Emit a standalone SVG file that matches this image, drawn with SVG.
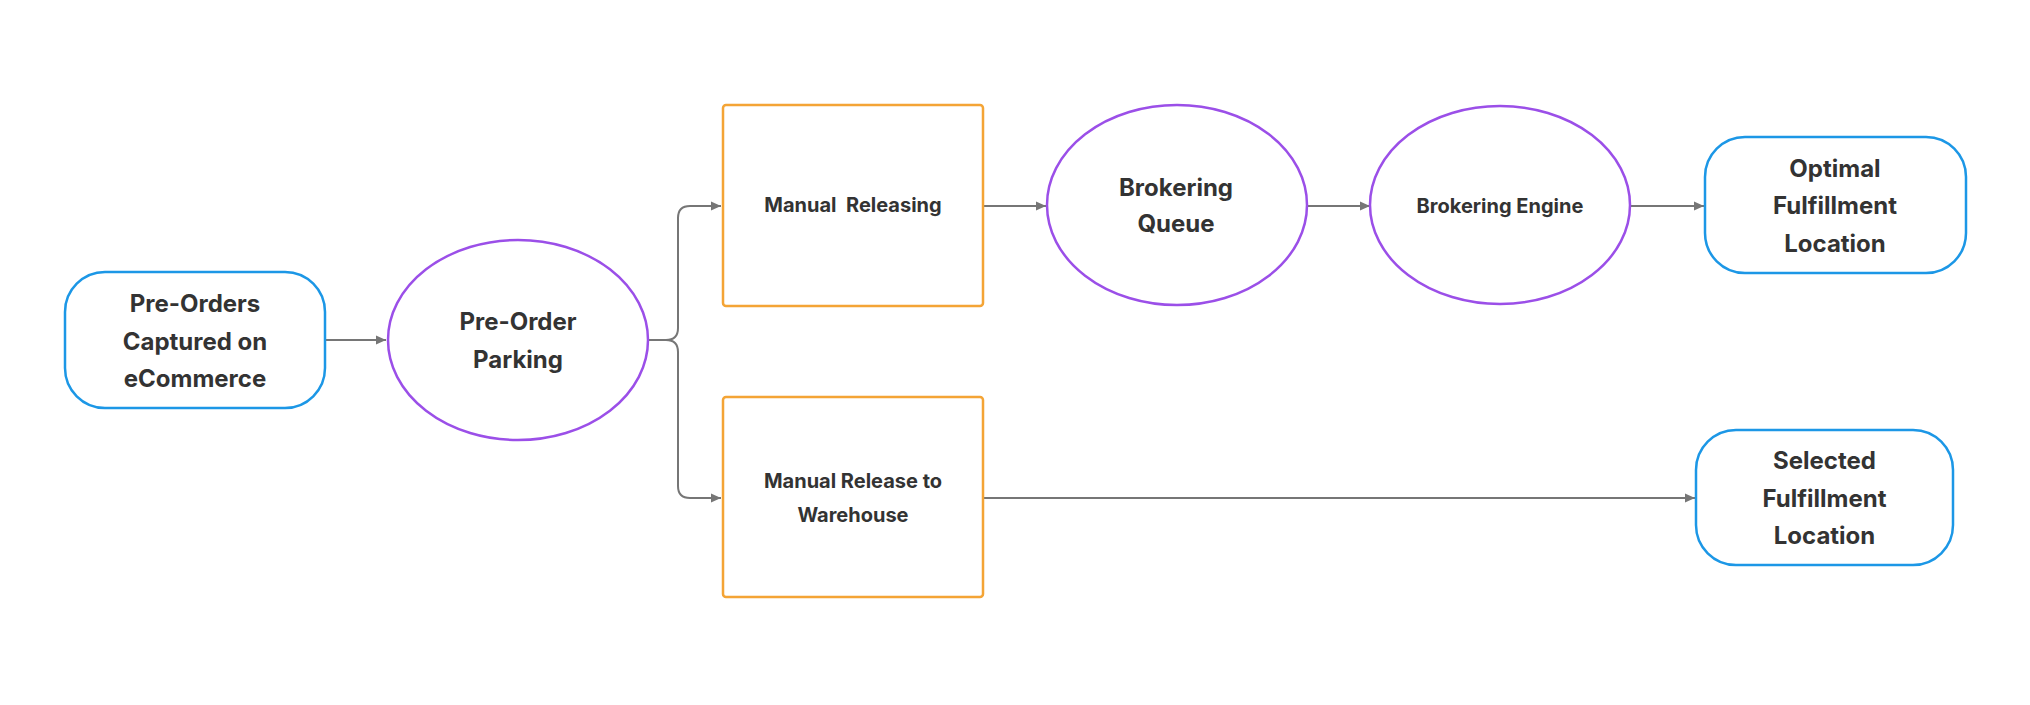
<svg xmlns="http://www.w3.org/2000/svg" width="2030" height="705" viewBox="0 0 2030 705">
<defs>
<marker id="arrow" markerUnits="userSpaceOnUse" markerWidth="10" markerHeight="10" refX="10" refY="5" orient="auto">
<path d="M0,0.5 L10,5 L0,9.5 z" fill="#767676"/>
</marker>
<style>
.term{fill:#fff;stroke:#1C97E6;stroke-width:2.5}
.proc{fill:#fff;stroke:#9B4FE8;stroke-width:2.5}
.act{fill:#fff;stroke:#F4A435;stroke-width:2.5}
.edge{fill:none;stroke:#767676;stroke-width:2;marker-end:url(#arrow)}
.edge0{fill:none;stroke:#767676;stroke-width:2}
.big{font-family:Inter,"Liberation Sans",sans-serif;font-weight:700;font-size:24px;fill:#333;text-anchor:middle}
.small{font-family:Inter,"Liberation Sans",sans-serif;font-weight:700;font-size:20px;fill:#333;text-anchor:middle}
</style>
</defs>
<rect width="2030" height="705" fill="#fff"/>
<g id="connectors">
<path class="edge" d="M325,340 H386"/>
<path class="edge0" d="M648,340 H666"/>
<path class="edge" d="M666,340 Q678,340 678,328 V218 Q678,206 690,206 H721"/>
<path class="edge" d="M666,340 Q678,340 678,352 V486 Q678,498 690,498 H721"/>
<path class="edge" d="M983,206 H1046"/>
<path class="edge" d="M1307,206 H1370"/>
<path class="edge" d="M1630,206 H1704"/>
<path class="edge" d="M983,498 H1695"/>
</g>
<g id="n1">
<rect class="term" x="65" y="272" width="260" height="136" rx="40"/>
<text class="big" x="195" y="312">Pre-Orders</text>
<text class="big" x="195" y="349.5">Captured on</text>
<text class="big" x="195" y="387">eCommerce</text>
</g>
<g id="n2">
<ellipse class="proc" cx="518" cy="340" rx="130" ry="100"/>
<text class="big" x="518" y="330">Pre-Order</text>
<text class="big" x="518" y="368">Parking</text>
</g>
<g id="n3">
<rect class="act" x="723" y="105" width="260" height="201" rx="3"/>
<text class="small" x="853" y="212" style="white-space:pre">Manual  Releasing</text>
</g>
<g id="n4">
<ellipse class="proc" cx="1177" cy="205" rx="130" ry="100"/>
<text class="big" x="1176" y="196">Brokering</text>
<text class="big" x="1176" y="232">Queue</text>
</g>
<g id="n5">
<ellipse class="proc" cx="1500" cy="205" rx="130" ry="99"/>
<text class="small" x="1500" y="213">Brokering Engine</text>
</g>
<g id="n6">
<rect class="term" x="1705" y="137" width="261" height="136" rx="40"/>
<text class="big" x="1835" y="177">Optimal</text>
<text class="big" x="1835" y="214">Fulfillment</text>
<text class="big" x="1835" y="251.5">Location</text>
</g>
<g id="n7">
<rect class="act" x="723" y="397" width="260" height="200" rx="3"/>
<text class="small" x="853" y="488">Manual Release to</text>
<text class="small" x="853" y="522">Warehouse</text>
</g>
<g id="n8">
<rect class="term" x="1696" y="430" width="257" height="135" rx="40"/>
<text class="big" x="1824.5" y="469">Selected</text>
<text class="big" x="1824.5" y="506.5">Fulfillment</text>
<text class="big" x="1824.5" y="543.5">Location</text>
</g>
</svg>
